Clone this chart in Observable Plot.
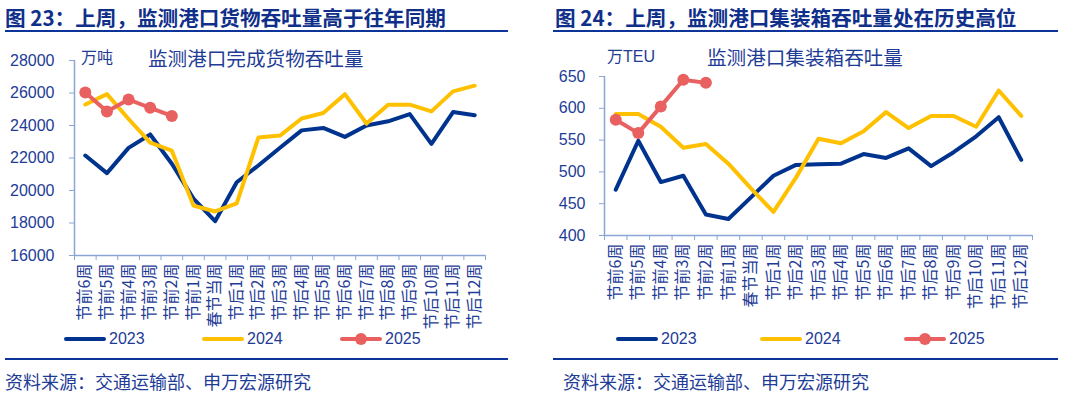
<!DOCTYPE html>
<html>
<head>
<meta charset="utf-8">
<script src="https://cdn.jsdelivr.net/npm/d3@7"></script>
<script src="https://cdn.jsdelivr.net/npm/@observablehq/plot@0.6"></script>
<style>
  html, body { margin: 0; padding: 0; background: #fff; }
  body { width: 1080px; height: 393px; position: relative; overflow: hidden;
         font-family: "Liberation Sans", Arial, "Noto Sans CJK SC", sans-serif; color: #1e3c96; }
  .abs { position: absolute; white-space: nowrap; }
  .title { font-family: "Noto Sans CJK SC", sans-serif; font-weight: bold; font-size: 20.6px; color: #0f2f8a; line-height: 24px; }
  .rule { position: absolute; height: 2px; background: #0d3499; }
  .unit { font-size: 16px; line-height: 20px; }
  .ctitle { font-family: "Noto Sans CJK SC", sans-serif; font-size: 19.6px; line-height: 22px; }
  .src { font-family: "Noto Sans CJK SC", sans-serif; font-size: 18px; line-height: 22px; }
  .leg { font-size: 16px; line-height: 20px; display: flex; align-items: center; }
  .sw { position: relative; width: 42px; height: 4px; margin-right: 3px; border-radius: 2px; }
  .sw .dot { position: absolute; left: 15px; top: -4px; width: 12px; height: 12px; border-radius: 6px; }
</style>
</head>
<body>
<script>
// ---------- data ----------
const categories = ["节前6周","节前5周","节前4周","节前3周","节前2周","节前1周","春节当周",
  "节后1周","节后2周","节后3周","节后4周","节后5周","节后6周","节后7周","节后8周","节后9周","节后10周","节后11周","节后12周"];
const years = ["2023", "2024", "2025"];
const yearColors = ["#00338d", "#ffc000", "#e8605f"];

// 监测港口完成货物吞吐量 (万吨)
const cargo2023 = [22150, 21070, 22620, 23450, 21650, 19500, 18110, 20510, 21540, 22630, 23700, 23850, 23300, 24000, 24260, 24700, 22870, 24830, 24630];
const cargo2024 = [25290, 25930, 24400, 22950, 22450, 19070, 18710, 19210, 23260, 23380, 24430, 24770, 25930, 24120, 25280, 25280, 24870, 26100, 26450];
const cargo2025 = [26030, 24860, 25600, 25090, 24590];
const cargoTicks = [16000, 18000, 20000, 22000, 24000, 26000, 28000];

// 监测港口集装箱吞吐量 (万TEU)
const teu2023 = [472, 549, 484, 494, 433, 426, 460, 494, 511, 512, 513, 528, 522, 537, 509, 531, 556, 586, 519];
const teu2024 = [591, 591, 571, 538, 544, 513, 474, 437, 491, 552, 545, 564, 594, 569, 588, 588, 571, 628, 588];
const teu2025 = [582, 561, 603, 645, 640];
const teuTicks = [400, 450, 500, 550, 600, 650];

const panels = [
  { left: 0, title: "图 23：上周，监测港口货物吞吐量高于往年同期", titleX: 5, ruleX: 5, ruleW: 503,
    unit: "万吨", unitX: 81, unitY: 58, chartTitle: "监测港口完成货物吞吐量", ctX: 148, ctY: 58,
    series: [cargo2023, cargo2024, cargo2025], ticks: cargoTicks,
    mt: 20, mb: 85, ml: 74, mr: 55, pad: 15,
    legX: [64, 202, 340], srcX: 5 },
  { left: 540, title: "图 24：上周，监测港口集装箱吞吐量处在历史高位", titleX: 555, ruleX: 553, ruleW: 505,
    unit: "万TEU", unitX: 607, unitY: 57, chartTitle: "监测港口集装箱吞吐量", ctX: 707, ctY: 57,
    series: [teu2023, teu2024, teu2025], ticks: teuTicks,
    mt: 36, mb: 105, ml: 64, mr: 48, pad: 14,
    legX: [616, 760, 904], srcX: 563 }
];

const axisColor = "#8aa6d6";
const textColor = "#1e3c96";

function addDiv(cls, text, x, y, h) {
  const d = document.createElement("div");
  d.className = "abs " + cls;
  d.textContent = text;
  d.style.left = x + "px";
  d.style.top = (y - h / 2) + "px";
  document.body.appendChild(d);
  return d;
}

for (const p of panels) {
  addDiv("title", p.title, p.titleX, 17, 24);
  const r1 = document.createElement("div"); r1.className = "rule";
  r1.style.left = p.ruleX + "px"; r1.style.top = "30px"; r1.style.width = p.ruleW + "px";
  document.body.appendChild(r1);

  const data = [];
  p.series.forEach((vals, k) => vals.forEach((v, i) => data.push({ i, v, year: years[k] })));
  const d25 = data.filter(d => d.year === "2025");
  const n = categories.length;
  const yMin = p.ticks[0], yMax = p.ticks[p.ticks.length - 1];

  const chart = Plot.plot({
    width: 540, height: 300,
    marginTop: p.mt, marginBottom: p.mb, marginLeft: p.ml, marginRight: p.mr,
    style: { fontFamily: '"Liberation Sans", Arial, "Noto Sans CJK SC", sans-serif', color: textColor, background: "transparent" },
    x: { type: "linear", domain: [-0.5, n - 0.5] },
    y: { domain: [yMin, yMax] },
    color: { domain: years, range: yearColors },
    marks: [
      Plot.axisY({ ticks: p.ticks, tickFormat: d => String(d), tickSize: 5, tickPadding: p.pad,
                   stroke: axisColor, fill: textColor, fontSize: 16, label: null }),
      Plot.axisX({ ticks: d3.range(n + 1).map(i => i - 0.5), tickFormat: () => "", tickSize: 5,
                   stroke: axisColor, label: null }),
      Plot.axisX({ ticks: d3.range(n), tickFormat: i => categories[i], tickSize: 0, tickPadding: 8,
                   tickRotate: -90, fill: textColor, fontSize: 16, label: null,
                   fontFamily: '"Noto Sans CJK SC", "Liberation Sans", sans-serif' }),
      Plot.ruleX([-0.5], { stroke: axisColor, strokeWidth: 1.5 }),
      Plot.ruleY([yMin], { stroke: axisColor, strokeWidth: 1.5 }),
      Plot.line(data, { x: "i", y: "v", z: "year", stroke: "year", strokeWidth: 4 }),
      Plot.dot(d25, { x: "i", y: "v", fill: "year", r: 6 })
    ]
  });
  chart.style.position = "absolute";
  chart.style.left = p.left + "px";
  chart.style.top = "40px";
  document.body.appendChild(chart);

  addDiv("unit", p.unit, p.unitX, p.unitY, 20);
  addDiv("ctitle", p.chartTitle, p.ctX, p.ctY, 22);

  // legend
  years.forEach((yr, k) => {
    const item = document.createElement("div");
    item.className = "abs leg";
    item.style.left = p.legX[k] + "px";
    item.style.top = (339 - 10) + "px";
    const sw = document.createElement("div");
    sw.className = "sw"; sw.style.background = yearColors[k];
    if (yr === "2025") {
      const dot = document.createElement("div"); dot.className = "dot"; dot.style.background = yearColors[k];
      sw.appendChild(dot);
    }
    item.appendChild(sw);
    const t = document.createElement("span"); t.textContent = yr;
    item.appendChild(t);
    document.body.appendChild(item);
  });

  const r2 = document.createElement("div"); r2.className = "rule";
  r2.style.left = p.ruleX + "px"; r2.style.top = "358px"; r2.style.width = p.ruleW + "px";
  document.body.appendChild(r2);
  addDiv("src", "资料来源：交通运输部、申万宏源研究", p.srcX, 381, 22);
}
</script>
</body>
</html>
